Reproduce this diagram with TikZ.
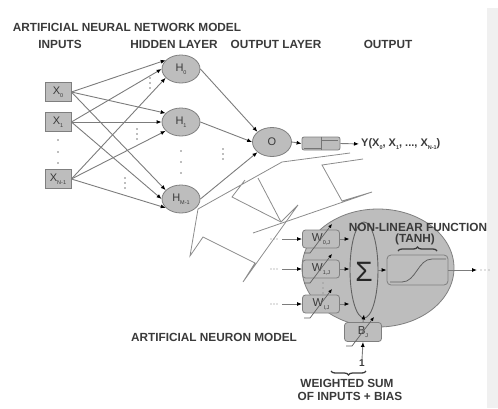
\documentclass[tikz,border=0pt]{standalone}
\usepackage{fontspec}
\setmainfont{Liberation Sans}
\usetikzlibrary{arrows.meta,shapes.geometric,decorations.pathreplacing,calc}
\definecolor{ink}{HTML}{3A3A3A}
\definecolor{wire}{HTML}{7C7C7C}
\definecolor{cellfill}{HTML}{BDBDBD}
\definecolor{celledge}{HTML}{7F7F7F}
\definecolor{boltline}{HTML}{8C8C8C}
\newcommand\subtxt[1]{\raisebox{-0.5ex}{\fontsize{5.5}{5.5}\selectfont #1}}
\begin{document}
\begin{tikzpicture}[x=1pt,y=-1pt,
  heading/.style={font=\fontsize{11.8}{13}\selectfont\bfseries, text=ink, inner sep=0pt},
  inbox/.style={rectangle, draw=celledge, fill=cellfill, line width=0.8pt, minimum width=26pt, minimum height=19pt, inner sep=0pt, font=\fontsize{11}{11}\selectfont, text=ink},
  neuron/.style={ellipse, draw=celledge, fill=cellfill, line width=0.8pt, minimum width=38pt, minimum height=28pt, inner sep=0pt, font=\fontsize{11}{11}\selectfont, text=ink},
  wbox/.style={rectangle, rounded corners=3pt, draw=celledge, fill=cellfill, line width=0.8pt, minimum width=37pt, minimum height=18pt, inner sep=0pt, font=\fontsize{11.5}{11.5}\selectfont, text=ink},
  link/.style={draw=wire, line width=0.9pt, -{Latex[length=5pt,width=4pt,color=black]}},
  adjust/.style={draw=ink!80, line width=0.7pt, -{Latex[length=4pt,width=3.5pt,color=black]}},
  bolt/.style={draw=boltline, line width=0.8pt, line join=miter},
  brace/.style={draw=ink, line width=1.3pt, decorate, decoration={brace, amplitude=4pt}},
]
\useasboundingbox (0,0) rectangle (498,408);
\fill[black!6] (487,8) rectangle (498,408);

% ---------------- network model ----------------
\node[heading] (title) at (127,27) {ARTIFICIAL NEURAL NETWORK MODEL};
\node[heading] (hin)  at (60,44)  {INPUTS};
\node[heading] (hhid) at (174,44) {HIDDEN LAYER};
\node[heading] (hout) at (276,44) {OUTPUT LAYER};
\node[heading] (hy)   at (388,44) {OUTPUT};

\node[inbox] (x0) at (58,92)  {X\subtxt{0}};
\node[inbox] (x1) at (58,122) {X\subtxt{1}};
\node[inbox] (xn) at (58,179) {X\subtxt{N-1}};

\node[neuron] (h0) at (181,69)  {H\subtxt{0}};
\node[neuron] (h1) at (181,122) {H\subtxt{1}};
\node[neuron] (hm) at (181,199) {H\subtxt{M-1}};

\node[neuron, minimum width=39pt, minimum height=29pt] (o) at (272,142) {O};

% input -> hidden
\foreach \s/\a in {x0/150, x1/180, xn/210}
  \foreach \t in {h0,h1,hm}
    \draw[link] (\s.east) -- (\t.\a);
% hidden -> output
\draw[link] (h0.east) -- (o.145);
\draw[link] (h1.east) -- (o.180);
\draw[link] (hm.east) -- (o.215);

% ellipsis dots
\foreach \x/\y in {58/140,58/152,58/163, 181/151,181/162,181/173,
                   150/78,150/83,150/88, 137/129,137/134,137/139,
                   125/178,125/183,125/188, 223/149,223/154,223/159}
  \fill[wire] (\x,\y) circle (0.8pt);

% output stage
\node[rectangle, rounded corners=2pt, draw=celledge, fill=cellfill, line width=0.8pt,
      minimum width=38pt, minimum height=13pt, inner sep=0pt] (ob) at (321,143.5) {};
\draw[ink!70, line width=0.6pt] (ob.north) -- (ob.south);
\draw[ink!70, line width=0.6pt] (304,148) -- (321,148) (321,140) -- (338,140);
\draw[link] (o.east) -- (ob.west);
\node[anchor=west, inner sep=0pt, font=\fontsize{11}{11}\selectfont\bfseries, text=ink]
  (ylbl) at (361,144) {Y(X\subtxt{0}, X\subtxt{1}, ..., X\subtxt{N-1})};
\draw[link, shorten >=2pt] (ob.east) -- (ylbl.west);

% ---------------- neuron model ----------------
\node[ellipse, draw=celledge, fill=cellfill, line width=0.8pt,
      minimum width=152pt, minimum height=118pt] (cell) at (378,268) {};
\node[ellipse, draw=ink!80, fill=cellfill, line width=0.9pt,
      minimum width=28pt, minimum height=96pt] (sum) at (364,270) {};
\node[inner sep=0pt, font=\fontsize{28}{28}\selectfont, text=black!85] (sigma) at (364,272) {Σ};

\node[wbox] (w0) at (321,239) {W\subtxt{0,J}};
\node[wbox] (w1) at (321,269) {W\subtxt{1,J}};
\node[wbox] (wi) at (321,304) {W\subtxt{I,J}};
\node[wbox, minimum height=19pt] (bj) at (363,332) {B\subtxt{J}};

\foreach \x/\y in {323/283,323/288,323/293}
  \fill[ink!70] (\x,\y) circle (0.7pt);

% inputs of the neuron
\coordinate (in0) at (282,239);
\coordinate (in1) at (282,269);
\coordinate (ini) at (282,304);
\foreach \c/\w in {in0/w0, in1/w1, ini/wi} {
  \draw[link] (\c) -- (\w.west);
  \foreach \d in {-11,-8,-5} \fill[wire] ($(\c)+(\d,0)$) circle (0.6pt);
}

% weights -> sum
\foreach \w in {w0,w1,wi}
  \draw[link] (\w.east) -- (\w.east -| sum.west);
\draw[link] (bj.north) -- ($(sum.south)+(0,-4)$);

% adjustable parameters
\foreach \n in {w0,w1,wi,bj}
  \draw[adjust] ($(\n.center)+(-17,14)$) -- ++(6,0) -- ++(22,-29);

% bias input
\node[inner sep=0pt, font=\fontsize{10}{10}\selectfont\bfseries, text=ink] (one) at (362,363) {1};
\draw[link] (one.north) -- (bj.south);

% activation function
\node[rectangle, rounded corners=4pt, draw=celledge, fill=cellfill, line width=0.8pt,
      minimum width=61pt, minimum height=30pt, inner sep=0pt] (act) at (417.5,270) {};
\draw[ink!80, line width=0.8pt] (390,282) -- (402,282)
  .. controls (416,282) and (418,259) .. (432,259) -- (446,259);
\draw[link] (sum.east |- act.west) -- (act.west);
\coordinate (outend) at (477,270);
\draw[link] (act.east) -- (outend);
\foreach \d in {481,485,489} \fill[wire] (\d,270) circle (0.6pt);

% ---------------- zoom bolt ----------------
\draw[bolt] (350,153) -- (282,162) -- (198,209) -- (190,256) -- (203,237) -- (255,263)
  -- (243,282) -- (298,205) -- (281,222) -- (232,197) -- (245,180);
\draw[bolt] (258,178) -- (281,222);
\draw[bolt] (363,159) -- (322,165) -- (342,201) -- (372,192) -- (253,233);

% captions
\node[heading] (fn)   at (418,227) {NON-LINEAR FUNCTION};
\node[heading] (tanh) at (415,239) {(TANH)};
\draw[brace] (398,251) -- (437,251);
\node[heading] (neu)  at (214,337) {ARTIFICIAL NEURON MODEL};
\draw[brace] (366,371) -- (331,371);
\node[heading] (ws)   at (347,383) {WEIGHTED SUM};
\node[heading] (oi)   at (350,396) {OF INPUTS + BIAS};
\end{tikzpicture}
\end{document}
